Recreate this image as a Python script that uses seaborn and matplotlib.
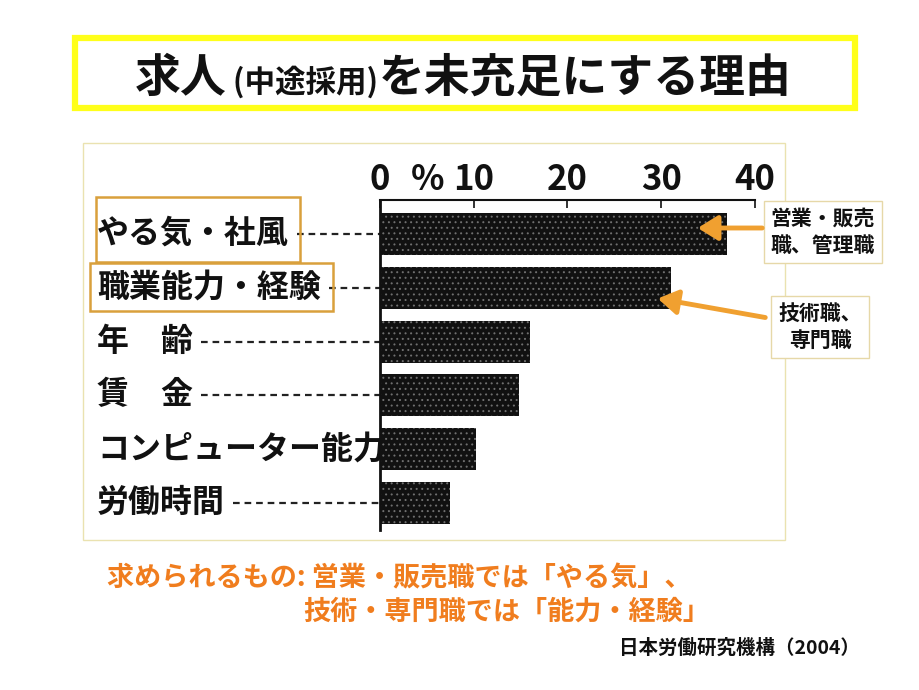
import matplotlib
matplotlib.use("Agg")
import matplotlib.pyplot as plt
import seaborn as sns
import pandas as pd
from matplotlib.patches import Rectangle, FancyArrowPatch
import matplotlib.transforms as mtransforms

sns.set_theme(style="white")
plt.rcParams['font.family'] = ['Noto Sans CJK JP', 'DejaVu Sans']
plt.rcParams['hatch.linewidth'] = 0.7

# ---------------- data ----------------
categories = ["やる気・社風", "職業能力・経験", "年　齢", "賃　金", "コンピューター能力", "労働時間"]
values = [37.0, 31.0, 16.0, 14.8, 10.2, 7.5]
tick_values = [0, 10, 20, 30, 40]
tick_labels = ["0", "10", "20", "30", "40"]
title_parts = [("求人", 33), (" (中途採用)", 22), ("を未充足にする理由", 33)]
note_line1 = "求められるもの: 営業・販売職では「やる気」、"
note_line2 = "技術・専門職では「能力・経験」"
source = "日本労働研究機構（2004）"
callout1 = "営業・販売\n職、管理職"
callout2 = "技術職、\n専門職"

W, H = 920, 690
fig = plt.figure(figsize=(W / 100, H / 100), dpi=100)
fig.patch.set_facecolor("white")

def fx(x):
    return x / W

def fy(y):
    return 1 - y / H

# panel frame
fig.patches.append(Rectangle((fx(83), fy(540)), fx(785) - fx(83), fy(143) - fy(540),
                             transform=fig.transFigure, fill=False,
                             edgecolor="#EAE2B0", lw=1.0, zorder=0))
# title frame
fig.patches.append(Rectangle((fx(75), fy(108)), fx(855) - fx(75), fy(38) - fy(108),
                             transform=fig.transFigure, fill=False,
                             edgecolor="#FFFF1A", lw=4.5, zorder=1))

# ---------------- axes ----------------
ax = fig.add_axes([fx(380), fy(530), fx(755) - fx(380), fy(200) - fy(530)])
df = pd.DataFrame({"cat": categories, "val": values})
sns.barplot(data=df, x="val", y="cat", orient="h", color="#111111", ax=ax,
            width=0.78, saturation=1)
for p in ax.patches:
    p.set_hatch("...")
    p.set_edgecolor("#6f6f6f")
    p.set_linewidth(0)

ax.set_xlim(0, 40)
ax.set_ylim(5.5, -0.63)
ax.xaxis.tick_top()
ax.set_xticks(tick_values)
ax.set_xticklabels(tick_labels, fontsize=25, fontweight="bold", color="#111111")
ax.tick_params(axis="x", direction="in", length=6, width=1.2, pad=2, top=True, bottom=False, colors="#111111")
ax.tick_params(axis="x", labelcolor="#111111")
ax.set_yticks([])
ax.set_xlabel("")
ax.set_ylabel("")
for s in ["right", "bottom"]:
    ax.spines[s].set_visible(False)
ax.spines["top"].set_linewidth(1.5)
ax.spines["left"].set_linewidth(2.0)
ax.spines["top"].set_color("#111111")
ax.spines["left"].set_color("#111111")
ax.set_facecolor("none")
fig.canvas.draw()
renderer = fig.canvas.get_renderer()

# percent sign, aligned with tick labels
tb = ax.get_xticklabels()[1].get_window_extent(renderer)
ax.text(5.1, tb.y0, "%",
        transform=mtransforms.blended_transform_factory(ax.transData, mtransforms.IdentityTransform()),
        ha="center", va="bottom", fontsize=25, fontweight="bold", color="#111111")

# ---------------- category labels ----------------
lab_tr = mtransforms.blended_transform_factory(fig.transFigure, ax.transData)
label_texts = []
for i, c in enumerate(categories):
    t = fig.text(fx(97), i, c, fontsize=23, fontweight="bold", va="center", ha="left",
                 color="#111111", transform=lab_tr)
    label_texts.append(t)
fig.canvas.draw()
ax_x0 = ax.get_window_extent(renderer).x0
for i, t in enumerate(label_texts):
    bb = t.get_window_extent(renderer)
    x0 = bb.x1 + 8
    if ax_x0 - x0 > 10:
        ax.plot([x0, ax_x0], [i, i], transform=mtransforms.blended_transform_factory(
            mtransforms.IdentityTransform(), ax.transData),
            ls=(0, (3, 2.2)), color="#222222", lw=1.6, clip_on=False)

# orange boxes around first two labels
box_col = "#D9A03C"
for (x0, y0, x1, y1) in [(96, 197, 300, 262), (90, 263, 333, 311)]:
    fig.patches.append(Rectangle((fx(x0), fy(y1)), fx(x1) - fx(x0), fy(y0) - fy(y1),
                                 transform=fig.transFigure, fill=False,
                                 edgecolor=box_col, lw=1.8, zorder=3))

# ---------------- callouts ----------------
fig.text(fx(823), fy(232), callout1, fontsize=15, fontweight="bold", ha="center", va="center",
         color="#111111", linespacing=1.35,
         bbox=dict(boxstyle="square,pad=0.35", facecolor="white", edgecolor="#E6D8A8", lw=1.0))
fig.text(fx(820), fy(327), callout2, fontsize=15, fontweight="bold", ha="center", va="center",
         color="#111111", linespacing=1.35,
         bbox=dict(boxstyle="square,pad=0.35", facecolor="white", edgecolor="#E6D8A8", lw=1.0))
arrow_col = "#F0A030"
for (x0, y0, x1, y1) in [(765, 228, 695, 228), (768, 318, 655, 298)]:
    fig.patches.append(FancyArrowPatch((fx(x0), fy(y0)), (fx(x1), fy(y1)),
                                       transform=fig.transFigure, arrowstyle="-|>,head_length=8,head_width=5",
                                       color=arrow_col, lw=3.5, mutation_scale=1.5, zorder=5))

# ---------------- title (centered, mixed sizes) ----------------
baseline = fy(92)
title_texts = []
x = 0.0
for txt, size in title_parts:
    t = fig.text(x, baseline, txt, fontsize=size, fontweight="bold", ha="left",
                 va="baseline", color="#111111")
    fig.canvas.draw()
    bb = t.get_window_extent(renderer)
    title_texts.append(t)
    x = bb.x1 / W
total = x
start = fx(463) - total / 2
for t in title_texts:
    px, py = t.get_position()
    t.set_position((px + start, py))

# ---------------- notes ----------------
note_col = "#F07D1E"
fig.text(fx(107), fy(578), note_line1, fontsize=19.5, fontweight="bold", color=note_col,
         ha="left", va="center")
fig.text(fx(303), fy(612), note_line2, fontsize=19.5, fontweight="bold", color=note_col,
         ha="left", va="center")
fig.text(fx(860), fy(648), source, fontsize=14, fontweight="bold", color="#111111",
         ha="right", va="center")

fig.savefig("out.png", dpi=100, facecolor="white")
